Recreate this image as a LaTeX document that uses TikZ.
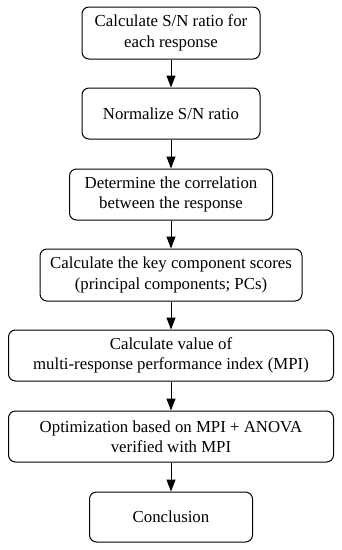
\documentclass[tikz,border=0pt]{standalone}
\usepackage{fontspec}
\setmainfont{Liberation Serif}
\usetikzlibrary{arrows.meta}
\begin{document}
\begin{tikzpicture}[x=1pt,y=1pt,
  box/.style={draw=black, line width=1pt, rounded corners=7pt, align=center,
    inner sep=0pt, font=\fontsize{16.8}{20.5}\selectfont},
  conn/.style={line width=1pt, -{Triangle[length=12pt,width=9pt]}}]
\useasboundingbox (0,0) rectangle (342,-550);
\node[box, minimum width=178pt, minimum height=52pt] (b1) at (171,-33) {Calculate S/N ratio for\\each response};
\node[box, minimum width=178pt, minimum height=51pt] (b2) at (171,-113.5) {Normalize S/N ratio};
\node[box, minimum width=203pt, minimum height=51pt] (b3) at (171,-194.5) {Determine the correlation\\between the response};
\node[box, minimum width=262pt, minimum height=52pt] (b4) at (171,-275) {Calculate the key component scores\\(principal components; PCs)};
\node[box, minimum width=325pt, minimum height=51pt] (b5) at (171,-355.5) {Calculate value of\\multi-response performance index (MPI)};
\node[box, minimum width=325pt, minimum height=51pt] (b6) at (171,-436.5) {Optimization based on MPI + ANOVA\\verified with MPI};
\node[box, minimum width=163pt, minimum height=50pt] (b7) at (171,-517) {Conclusion};
\draw[conn] (b1) -- (b2);
\draw[conn] (b2) -- (b3);
\draw[conn] (b3) -- (b4);
\draw[conn] (b4) -- (b5);
\draw[conn] (b5) -- (b6);
\draw[conn] (b6) -- (b7);
\end{tikzpicture}
\end{document}
